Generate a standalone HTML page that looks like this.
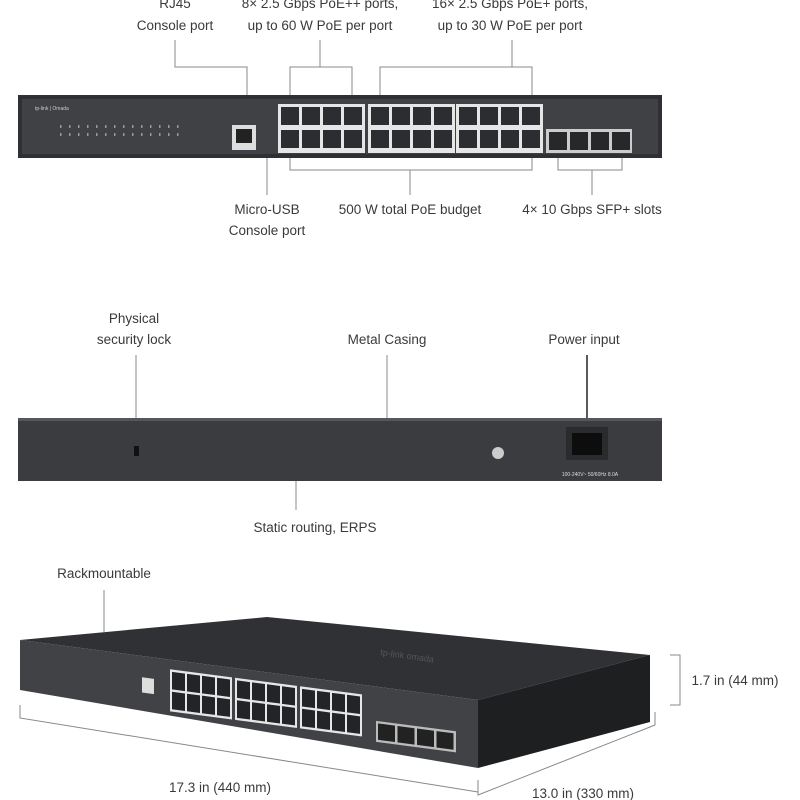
<!DOCTYPE html>
<html><head><meta charset="utf-8"><style>
html,body{margin:0;padding:0;background:#fff;width:800px;height:800px;overflow:hidden}
svg text{font-family:"Liberation Sans",sans-serif;fill:#3a3a3a;font-size:13.5px}
</style></head><body>
<svg id="s" width="800" height="800" viewBox="0 0 800 800" xmlns="http://www.w3.org/2000/svg">
<g text-anchor="middle">
<text x="175" y="8">RJ45</text>
<text x="175" y="30">Console port</text>
<text x="320" y="8">8× 2.5 Gbps PoE++ ports,</text>
<text x="320" y="30">up to 60 W PoE per port</text>
<text x="510" y="8">16× 2.5 Gbps PoE+ ports,</text>
<text x="510" y="30">up to 30 W PoE per port</text>
<text x="267" y="214">Micro-USB</text>
<text x="267" y="235">Console port</text>
<text x="410" y="214">500 W total PoE budget</text>
<text x="592" y="214">4× 10 Gbps SFP+ slots</text>
<text x="134" y="323">Physical</text>
<text x="134" y="344">security lock</text>
<text x="387" y="344">Metal Casing</text>
<text x="584" y="344">Power input</text>
<text x="315" y="532">Static routing, ERPS</text>
<text x="104" y="578">Rackmountable</text>
<text x="735" y="685">1.7 in (44 mm)</text>
<text x="220" y="792">17.3 in (440 mm)</text>
<text x="583" y="798">13.0 in (330 mm)</text>
</g>
<g stroke="#888" stroke-width="1" fill="none">
<polyline points="175,40 175,67 247,67 247,125"/>
<polyline points="320,40 320,67"/><polyline points="290,100 290,67 352,67 352,100"/>
<polyline points="512,40 512,67"/><polyline points="380,100 380,67 532,67 532,100"/>
<polyline points="290,155 290,170 532,170 532,155"/><line x1="410" y1="170" x2="410" y2="195"/>
<polyline points="558,155 558,170 622,170 622,155"/><line x1="592" y1="170" x2="592" y2="195"/>
<line x1="267" y1="148" x2="267" y2="195"/>
<line x1="136" y1="355" x2="136" y2="440"/>
<line x1="387" y1="355" x2="387" y2="418"/>
<line x1="296" y1="481" x2="296" y2="510"/>
<line x1="104" y1="590" x2="104" y2="632"/>
<polyline points="20,705 20,718 478,792"/>
<polyline points="478,780 478,795 655,725 655,712"/>
<polyline points="670,655 680,655 680,705 670,705"/>
</g>
<line x1="587" y1="355" x2="587" y2="435" stroke="#222" stroke-width="1.5"/>
<rect x="18" y="95" width="644" height="63" fill="#2e3033"/>
<rect x="22" y="99" width="636" height="55" fill="#3f4144"/>
<text x="35" y="110" style="font-size:5px;fill:#ccc">tp-link | Omada</text>
<g id="leds" fill="#888"></g>
<rect x="232" y="125" width="24" height="25" fill="#ddd"/><rect x="236" y="129" width="16" height="14" fill="#222"/>
<g id="ports"></g>
<rect x="18" y="418" width="644" height="63" fill="#3a3c3f"/>
<rect x="18" y="418" width="644" height="3" fill="#55575a"/>
<rect x="134" y="446" width="5" height="10" fill="#111"/>
<circle cx="498" cy="453" r="6" fill="#ccc"/>
<rect x="566" y="427" width="42" height="33" fill="#2a2b2d"/>
<rect x="572" y="433" width="30" height="22" fill="#0d0d0d"/>
<text x="590" y="476" text-anchor="middle" style="font-size:5px;fill:#ddd">100-240V~ 50/60Hz 8.0A</text>
<polygon points="20,640 267,617 650,655 478,700" fill="#2f3134"/>
<polygon points="478,700 650,655 650,722 478,768" fill="#1e1f21"/>
<polygon points="20,640 478,700 478,768 20,690" fill="#404246"/>
<text x="380" y="655" style="font-size:9px;fill:#555" transform="rotate(8 380 655)">tp-link omada</text>
<g id="pp" transform="matrix(1,0.131,0,1.17,0,-110)"></g>
</svg>
<script>
var ns="http://www.w3.org/2000/svg";
function r(p,x,y,w,h,f){var e=document.createElementNS(ns,"rect");e.setAttribute("x",x);e.setAttribute("y",y);e.setAttribute("width",w);e.setAttribute("height",h);e.setAttribute("fill",f);p.appendChild(e);}
var P=document.getElementById("ports");
[278,368,456].forEach(function(gx){r(P,gx,104,87,49,"#e6e6e6");for(var c=0;c<4;c++)for(var rr=0;rr<2;rr++)r(P,gx+3+c*21,107+rr*23,18,18,"#2b2d30");});
r(P,546,129,86,24,"#ccc");for(var c=0;c<4;c++)r(P,549+c*21,132,18,18,"#26282a");
var L=document.getElementById("leds");for(var i=0;i<14;i++){r(L,60+i*9,125,1.5,3,"#999");r(L,60+i*9,133,1.5,3,"#999");}
var Q=document.getElementById("pp");
[170,235,300].forEach(function(gx){r(Q,gx,647,62,36,"#e6e6e6");for(var c=0;c<4;c++)for(var rr=0;rr<2;rr++)r(Q,gx+2+c*15,649+rr*17,13,15,"#232427");});
r(Q,142,657,12,13,"#ddd");
r(Q,376,668,80,18,"#bbb");for(var c=0;c<4;c++)r(Q,378+c*19.5,670,17,14,"#222");
</script>
</body></html>
